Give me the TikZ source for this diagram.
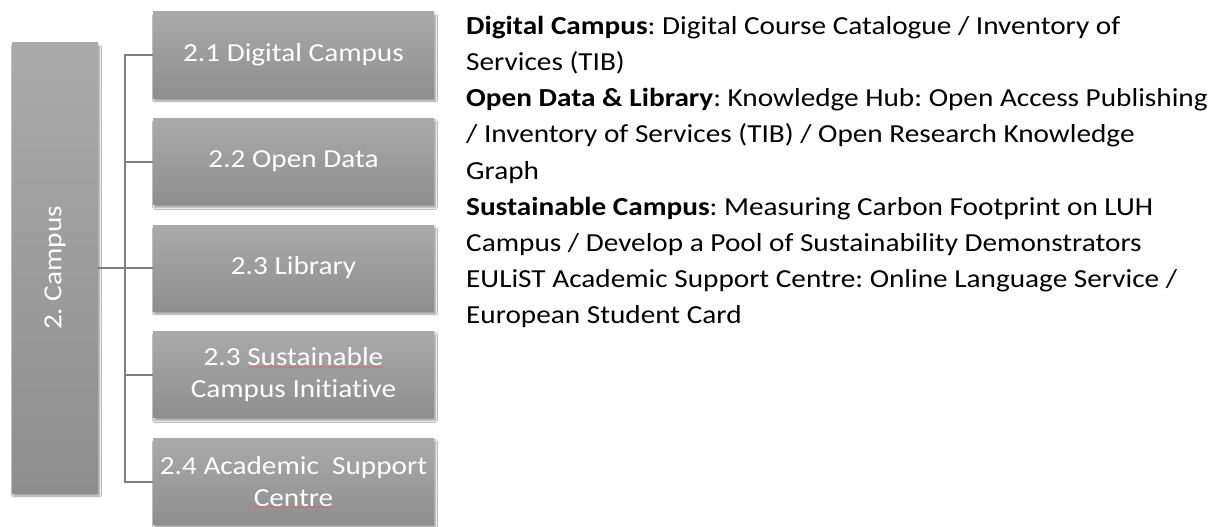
\documentclass[tikz,border=0pt]{standalone}
\usepackage{fontspec}
\setmainfont{Carlito}[FakeStretch=1.125, Ligatures=NoCommon]
\usetikzlibrary{shadows.blur,decorations.pathmorphing}
\definecolor{boxtop}{HTML}{AAAAAA}
\definecolor{boxbot}{HTML}{8E8E8E}
\definecolor{conn}{HTML}{7F7F7F}
\definecolor{squig}{HTML}{E06060}
\tikzset{
  graybox/.style={rectangle, inner sep=0pt, top color=boxtop, bottom color=boxbot,
    draw=none, text=white, align=center,
    blur shadow={shadow xshift=1.5pt, shadow yshift=-3pt, shadow blur steps=6, shadow opacity=40},
    font=\fontsize{26}{32}\selectfont},
  childbox/.style={graybox, minimum width=281pt, minimum height=86pt},
  connline/.style={draw=conn, line width=2pt},
  squiggle/.style={draw=squig, line width=0.6pt, decorate,
    decoration={snake, amplitude=0.5pt, segment length=3pt}},
}
\begin{document}
\frenchspacing
\begin{tikzpicture}[x=1pt,y=-1pt]
\useasboundingbox (0,0) rectangle (1223,527);
\fill[white] (0,0) rectangle (1223,527);
\node[graybox, minimum width=86pt, minimum height=450pt] (main) at (55,268)
  {\rotatebox{90}{2. Campus}};
\node[childbox] (b1) at (293.5,55) {2.1 Digital Campus};
\node[childbox] (b2) at (293.5,161.5) {2.2 Open Data};
\node[childbox] (b3) at (293.5,268) {2.3 Library};
\node[childbox] (b4) at (293.5,374.5) {2.3 Sustainable\\Campus Initiative};
\node[childbox] (b5) at (293.5,481.5) {2.4 Academic\ \ Support\\Centre};
\coordinate (j) at (125,268);
\draw[connline] (main.east) -- (j);
\draw[connline] (b1.west) -| (j) |- (b5.west);
\draw[connline] (b2.west) -- (b2.west -| j);
\draw[connline] (b3.west) -- (b3.west -| j);
\draw[connline] (b4.west) -- (b4.west -| j);
\draw[squiggle] (248,367) -- (383,367);
\draw[squiggle] (254,507) -- (333,507);
\node[anchor=north west, inner sep=0pt, align=left,
  font=\fontsize{26}{36.15}\selectfont] (txt) at (466,16)
{\textbf{Digital Campus}: Digital Course Catalogue / Inventory of\\
Services (TIB)\\
\textbf{Open Data \& Library}: Knowledge Hub: Open Access Publishing\\
/ Inventory of Services (TIB) / Open Research Knowledge\\
Graph\\
\textbf{Sustainable Campus}: Measuring Carbon Footprint on LUH\\
Campus / Develop a Pool of Sustainability Demonstrators\\
EULiST Academic Support Centre: Online Language Service /\\
European Student Card};
\end{tikzpicture}
\end{document}
